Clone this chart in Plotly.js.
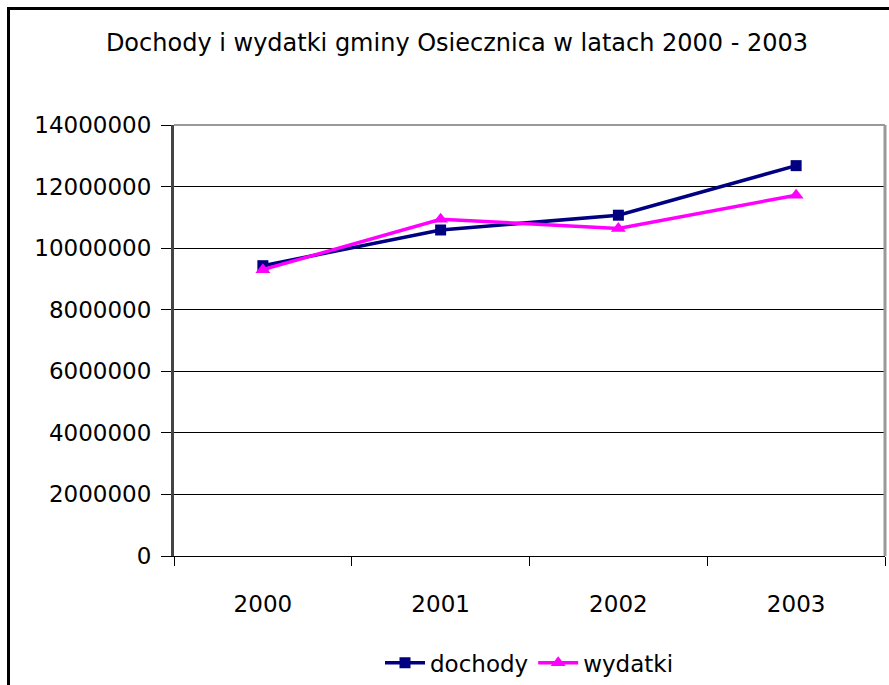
<!DOCTYPE html>
<html>
<head>
<meta charset="utf-8">
<script src="https://cdn.plot.ly/plotly-3.0.1.min.js"></script>
<style>
  html, body { margin: 0; padding: 0; background: #fff; overflow: hidden; }
  #chart { position: absolute; left: 0; top: 0; width: 889px; height: 685px; }
  #frame { position: absolute; left: 7px; top: 7px; width: 900px; height: 700px; border: 3px solid #000; pointer-events: none; }
</style>
</head>
<body>
<div id="chart"></div>
<div id="frame"></div>
<script>
const years = ["2000", "2001", "2002", "2003"];
const dochody = [9430000, 10590000, 11070000, 12680000];
const wydatki = [9300000, 10940000, 10640000, 11720000];
const yTicks = [0, 2000000, 4000000, 6000000, 8000000, 10000000, 12000000, 14000000];
const yTickText = ["0", "2000000", "4000000", "6000000", "8000000", "10000000", "12000000", "14000000"];

const FONT = "DejaVu Sans, Verdana, sans-serif";

const traces = [
  {
    x: years, y: dochody, name: "dochody", type: "scatter", mode: "lines+markers",
    line: { color: "#000080", width: 3.5 },
    marker: { symbol: "square", size: 11, color: "#000080" }
  },
  {
    x: years, y: wydatki, name: "wydatki", type: "scatter", mode: "lines+markers",
    line: { color: "#FF00FF", width: 3.5 },
    marker: { symbol: "triangle-up", size: 13, color: "#FF00FF" }
  }
];

const layout = {
  width: 889, height: 685,
  margin: { l: 174, r: 4, t: 125, b: 129, autoexpand: false },
  paper_bgcolor: "#fff", plot_bgcolor: "#fff",
  font: { family: FONT, color: "#000", size: 23 },
  title: { text: "Dochody i wydatki gminy Osiecznica w latach 2000 - 2003",
           font: { family: FONT, size: 24, color: "#000" },
           x: 457 / 889, xanchor: "center", y: 1 - 43 / 685, yanchor: "middle" },
  showlegend: true,
  legend: { orientation: "h", x: 0.5, xanchor: "center", y: -0.248, yanchor: "middle",
            font: { family: FONT, size: 23, color: "#000" }, itemwidth: 40 },
  xaxis: {
    type: "category", range: [-0.5, 3.5], tickson: "boundaries", ticks: "outside", ticklen: 9, tickcolor: "#000", tickwidth: 1,
    showline: true, linecolor: "#000", linewidth: 1, showgrid: false, zeroline: false,
    ticklabelstandoff: 27, tickfont: { family: FONT, size: 23 }
  },
  yaxis: {
    range: [0, 14000000], tickvals: yTicks, ticktext: yTickText,
    ticks: "outside", ticklen: 10, tickcolor: "#000", tickwidth: 1,
    showline: true, linecolor: "#444", linewidth: 3,
    showgrid: true, gridcolor: "#000", gridwidth: 1, zeroline: false,
    ticklabelstandoff: 5, tickfont: { family: FONT, size: 23 }
  },
  shapes: [
    { type: "line", xref: "paper", yref: "paper", x0: 0, x1: 1, y0: 1, y1: 1, line: { color: "#999", width: 2 }, layer: "above" },
    { type: "line", xref: "paper", yref: "paper", x0: 1, x1: 1, y0: 0, y1: 1, line: { color: "#999", width: 3 }, layer: "above" }
  ]
};

Plotly.newPlot("chart", traces, layout, { displayModeBar: false, staticPlot: true });
</script>
</body>
</html>
